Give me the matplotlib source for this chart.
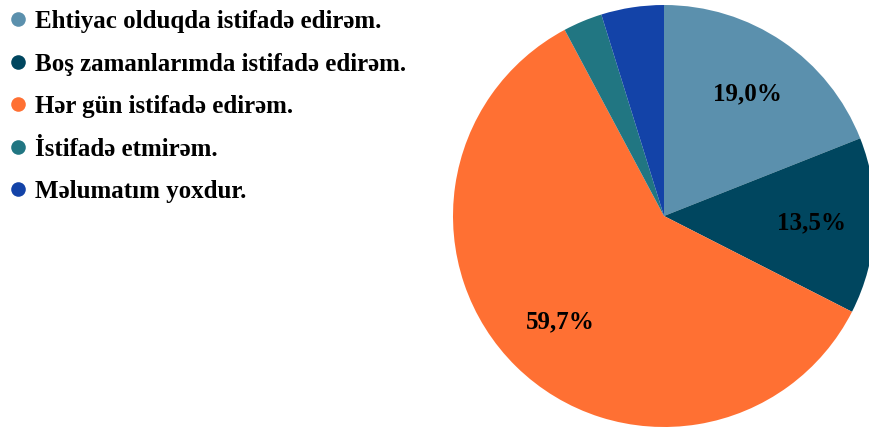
import numpy as np
import matplotlib.pyplot as plt
from matplotlib.lines import Line2D

labels = ["Ehtiyac olduqda istifadə edirəm.",
          "Boş zamanlarımda istifadə edirəm.",
          "Hər gün istifadə edirəm.",
          "İstifadə etmirəm.",
          "Məlumatım yoxdur."]
shares = [19.0, 13.5, 59.7, 3.0, 4.8]
shown = ["19,0%", "13,5%", "59,7%", "", ""]
colors = ["#5B90AD", "#00465F", "#FF7033", "#217682", "#1343A8"]

plt.rcParams['font.family'] = ['Liberation Serif', 'DejaVu Serif']

W, H = 869, 428
fig = plt.figure(figsize=(W / 100, H / 100), dpi=100)

# pie axis: centre ~(664, 216) px, radius ~211 px
cx, cy, r = 664, 216, 211
ax = fig.add_axes([(cx - r) / W, (H - cy - r) / H, 2 * r / W, 2 * r / H])
wedges, _ = ax.pie(shares, colors=colors, startangle=90, counterclock=False,
                   radius=1, wedgeprops=dict(linewidth=0))
for w, txt in zip(wedges, shown):
    if not txt:
        continue
    ang = np.deg2rad((w.theta1 + w.theta2) / 2)
    ax.text(0.70 * np.cos(ang), 0.70 * np.sin(ang), txt, ha='center', va='center',
            fontsize=18, fontweight='bold', color='black')
ax.set_xlim(-1, 1)
ax.set_ylim(-1, 1)
ax.set_aspect('equal')
ax.axis('off')

handles = [Line2D([], [], linestyle='none', marker='o', markersize=10.5,
                  markerfacecolor=c, markeredgewidth=0) for c in colors]
fig.legend(handles, labels, loc='upper left', bbox_to_anchor=(10 / W, 1 - 10 / H),
           frameon=False, borderaxespad=0, borderpad=0, handlelength=0.6,
           handletextpad=0.4, labelspacing=0.78,
           prop=dict(family='Liberation Serif', weight='bold', size=18))

fig.savefig("out.png", dpi=100)
